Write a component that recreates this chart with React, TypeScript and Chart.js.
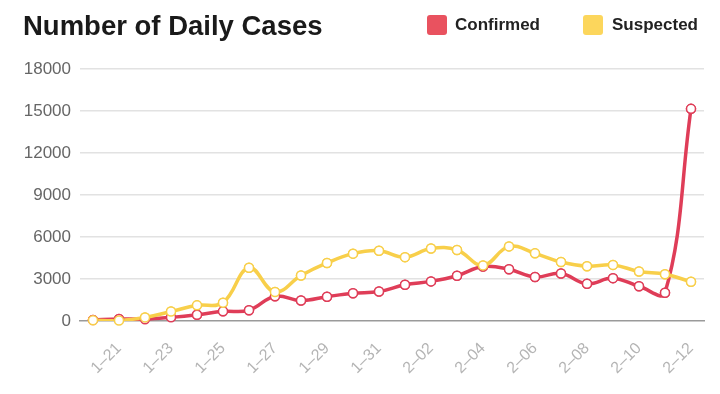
import React, { useEffect, useRef } from "react";
import { Chart, registerables } from "chart.js";

Chart.register(...registerables);

const dates = [
  "1–20", "1–21", "1–22", "1–23", "1–24", "1–25", "1–26", "1–27", "1–28", "1–29", "1–30", "1–31",
  "2–01", "2–02", "2–03", "2–04", "2–05", "2–06", "2–07", "2–08", "2–09", "2–10", "2–11", "2–12",
];
const confirmed = [77, 149, 131, 259, 444, 688, 769, 1771, 1459, 1737, 1982, 2102, 2590, 2829, 3235, 3887, 3694, 3143, 3399, 2656, 3062, 2478, 2015, 15152];
const suspected = [54, 37, 257, 680, 1118, 1309, 3806, 2077, 3248, 4148, 4812, 5019, 4562, 5173, 5072, 3971, 5328, 4833, 4214, 3916, 4008, 3536, 3342, 2807];
const yMax = 18000;
const yStep = 3000;

const RED = "#df3d58";
const RED_BOX = "#e9525f";
const YELLOW = "#f8cf4a";
const YELLOW_BOX = "#fcd65c";
const FONT = "'Liberation Sans', Arial, Helvetica, sans-serif";

const pointsOnTop = {
  id: "pointsOnTop",
  afterDatasetsDraw(chart: any) {
    const ctx = chart.ctx;
    const n = chart.data.datasets.length;
    for (let i = 0; i < n; i++) {
      const meta = chart.getDatasetMeta(i);
      meta.data.forEach((p: any) => p.draw(ctx, chart.chartArea));
    }
  },
};

export default function App() {
  const ref = useRef<HTMLCanvasElement | null>(null);

  useEffect(() => {
    document.body.style.margin = "0";
    if (!ref.current) return;
    const chart = new Chart(ref.current, {
      type: "line",
      data: {
        labels: dates,
        datasets: [
          {
            label: "Confirmed",
            data: confirmed,
            order: 1,
            borderColor: RED,
            backgroundColor: RED,
            borderWidth: 3.5,
            tension: 0.4,
            pointRadius: 4.5,
            pointBorderWidth: 1.5,
            pointBackgroundColor: "#ffffff",
            pointBorderColor: RED,
          },
          {
            label: "Suspected",
            data: suspected,
            order: 0,
            borderColor: YELLOW,
            backgroundColor: YELLOW,
            borderWidth: 3.5,
            tension: 0.4,
            pointRadius: 4.5,
            pointBorderWidth: 1.5,
            pointBackgroundColor: "#ffffff",
            pointBorderColor: YELLOW,
          },
        ],
      },
      options: {
        responsive: false,
        animation: false,
        layout: { padding: { top: 69, right: 16, left: 0, bottom: 0 } },
        plugins: {
          legend: { display: false },
          title: { display: false },
          tooltip: { enabled: false },
        },
        scales: {
          x: {
            offset: true,
            grid: { display: false, drawTicks: false },
            border: { display: true, color: "#9a9a9a", width: 1.5 },
            ticks: {
              autoSkip: false,
              maxRotation: 45,
              minRotation: 45,
              padding: 18,
              color: "#b4b4b4",
              font: { family: FONT, size: 16 },
              callback: (_v: any, i: number) => (i % 2 === 1 ? dates[i] : ""),
            },
            afterFit: (s: any) => {
              s.height = 73;
              s.paddingLeft = 0;
              s.paddingRight = 0;
            },
          },
          y: {
            min: 0,
            max: yMax,
            grid: {
              drawTicks: false,
              lineWidth: 1.5,
              color: (c: any) => (c.tick && c.tick.value === 0 ? "rgba(0,0,0,0)" : "#e2e2e2"),
            },
            border: { display: false },
            ticks: {
              stepSize: yStep,
              padding: 9,
              color: "#666666",
              font: { family: FONT, size: 17 },
              callback: (v: any) => String(v),
            },
            afterFit: (s: any) => {
              s.width = 80;
            },
          },
        },
      },
      plugins: [pointsOnTop],
    });
    return () => chart.destroy();
  }, []);

  const legendItem = (color: string, text: string, left: number, textLeft: number) => (
    <>
      <div
        style={{
          position: "absolute",
          left,
          top: 15,
          width: 20,
          height: 20,
          borderRadius: 3,
          background: color,
        }}
      />
      <div
        style={{
          position: "absolute",
          left: textLeft,
          top: 15,
          fontFamily: FONT,
          fontWeight: "bold",
          fontSize: 17,
          lineHeight: "20px",
          color: "#222",
        }}
      >
        {text}
      </div>
    </>
  );

  return (
    <div style={{ position: "relative", width: 720, height: 394, background: "#fff", overflow: "hidden" }}>
      <canvas ref={ref} width={720} height={394} style={{ position: "absolute", left: 0, top: 0 }} />
      <div
        style={{
          position: "absolute",
          left: 23,
          top: 10,
          fontFamily: FONT,
          fontWeight: "bold",
          fontSize: 27.5,
          lineHeight: "32px",
          color: "#1a1a1a",
        }}
      >
        Number of Daily Cases
      </div>
      {legendItem(RED_BOX, "Confirmed", 427, 455)}
      {legendItem(YELLOW_BOX, "Suspected", 583, 612)}
    </div>
  );
}
